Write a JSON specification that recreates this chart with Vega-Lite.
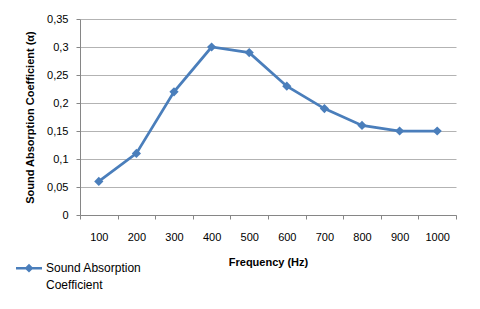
{
  "$schema": "https://vega.github.io/schema/vega-lite/v6.json",
  "width": 376,
  "height": 196,
  "autosize": {"type": "none"},
  "padding": {"left": 80, "top": 19, "right": 24, "bottom": 94},
  "background": "white",
  "data": {
    "values": [
      {"freq": "100", "alpha": 0.06, "series": "Sound Absorption Coefficient"},
      {"freq": "200", "alpha": 0.11, "series": "Sound Absorption Coefficient"},
      {"freq": "300", "alpha": 0.22, "series": "Sound Absorption Coefficient"},
      {"freq": "400", "alpha": 0.30, "series": "Sound Absorption Coefficient"},
      {"freq": "500", "alpha": 0.29, "series": "Sound Absorption Coefficient"},
      {"freq": "600", "alpha": 0.23, "series": "Sound Absorption Coefficient"},
      {"freq": "700", "alpha": 0.19, "series": "Sound Absorption Coefficient"},
      {"freq": "800", "alpha": 0.16, "series": "Sound Absorption Coefficient"},
      {"freq": "900", "alpha": 0.15, "series": "Sound Absorption Coefficient"},
      {"freq": "1000", "alpha": 0.15, "series": "Sound Absorption Coefficient"}
    ]
  },
  "mark": {
    "type": "line",
    "strokeWidth": 2.75,
    "point": {"shape": "diamond", "size": 85, "filled": true, "color": "#4A7EBB"}
  },
  "encoding": {
    "x": {
      "field": "freq",
      "type": "ordinal",
      "sort": null,
      "scale": {"paddingInner": 0, "paddingOuter": 0},
      "axis": {
        "title": "Frequency (Hz)",
        "labelAngle": 0,
        "tickBand": "extent",
        "tickSize": 4,
        "labelPadding": 12,
        "titlePadding": 14,
        "grid": false
      }
    },
    "y": {
      "field": "alpha",
      "type": "quantitative",
      "scale": {"domain": [0, 0.35], "nice": false},
      "axis": {
        "title": "Sound Absorption Coefficient (α)",
        "values": [0, 0.05, 0.1, 0.15, 0.2, 0.25, 0.3, 0.35],
        "labelExpr": "replace(format(datum.value, '~g'), '.', ',')",
        "tickSize": 4,
        "labelPadding": 8,
        "titlePadding": 11,
        "grid": true,
        "domain": true
      }
    },
    "color": {
      "field": "series",
      "type": "nominal",
      "scale": {"range": ["#4A7EBB"]},
      "legend": {
        "title": null,
        "orient": "none",
        "legendX": -64,
        "legendY": 231,
        "symbolType": "M-1,0.3H1V0.5H-1Z M0,0.06L0.34,0.4L0,0.74L-0.34,0.4Z",
        "symbolSize": 676,
        "symbolStrokeWidth": 0,
        "symbolFillColor": "#4A7EBB",
        "labelExpr": "['Sound Absorption', 'Coefficient']",
        "labelBaseline": "top",
        "labelFontSize": 12,
        "labelFont": "Liberation Sans",
        "labelColor": "#000000",
        "labelLimit": 200,
        "labelOffset": 4,
        "encode": {"labels": {"update": {"lineHeight": {"value": 17}}}}
      }
    }
  },
  "config": {
    "view": {"stroke": null},
    "axis": {
      "labelFont": "Liberation Sans",
      "labelFontSize": 11,
      "labelColor": "#000000",
      "titleFont": "Liberation Sans",
      "titleFontSize": 11,
      "titleFontWeight": "bold",
      "titleColor": "#000000",
      "domainColor": "#868686",
      "tickColor": "#868686",
      "gridColor": "#b3b3b3",
      "domainWidth": 1,
      "tickWidth": 1
    }
  }
}
